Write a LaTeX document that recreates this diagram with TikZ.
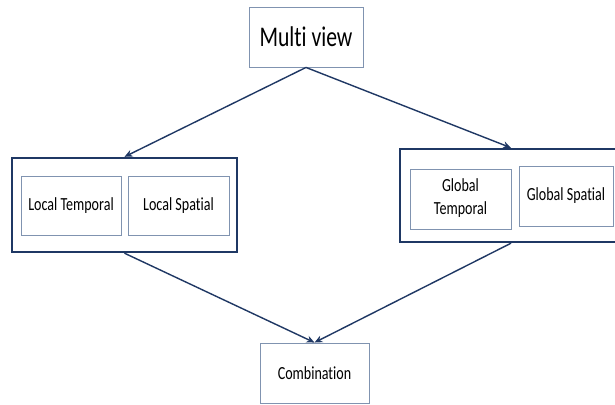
\documentclass[tikz,border=0pt]{standalone}
\usepackage{fontspec}
\setmainfont[Ligatures=NoCommon]{Carlito}
\usetikzlibrary{arrows.meta}
\definecolor{navy}{HTML}{1F3864}
\definecolor{boxline}{HTML}{8093B0}
\newcommand{\narrow}[1]{\scalebox{0.76}[1]{#1}}
\tikzset{
  card/.style={draw=boxline, line width=0.9pt, fill=white, inner sep=0pt, align=center, font=\fontsize{18.5}{21}\selectfont},
  group/.style={draw=navy, line width=2.4pt, inner sep=0pt},
  flow/.style={draw=navy, line width=1.4pt, -{Stealth[length=8pt,width=7pt]}}
}
\begin{document}
\begin{tikzpicture}[x=1pt,y=-1pt]
\useasboundingbox (0,0) rectangle (615,404);
\fill[white] (0,0) rectangle (615,404);

% top source box
\node[card, minimum width=114pt, minimum height=60pt, font=\fontsize{28.5}{32}\selectfont] (mv) at (306,37) {\narrow{Multi view}};

% local group
\node[group, minimum width=225pt, minimum height=94pt] (lg) at (124.5,205) {};
\node[card, minimum width=100pt, minimum height=59pt] (lt) at (71,205.5) {\narrow{Local Temporal}};
\node[card, minimum width=101pt, minimum height=59pt] (ls) at (178.5,205.5) {\narrow{Local Spatial}};

% global group
\node[group, minimum width=222pt, minimum height=93pt] (rg) at (511,195.5) {};
\node[card, minimum width=101pt, minimum height=60pt] (gt) at (460.5,199) {\narrow{\begin{tabular}{@{}c@{}}Global\\[2pt]Temporal\end{tabular}}};
\node[card, minimum width=94pt, minimum height=60pt] (gs) at (566,196) {\narrow{Global Spatial}};

% result box
\node[card, minimum width=109pt, minimum height=60pt] (cb) at (314.5,373) {\narrow{Combination}};

% connectors
\draw[flow] (mv.south) -- (lg.north);
\draw[flow] (mv.south) -- (rg.north);
\draw[flow] (lg.south) -- (cb.north);
\draw[flow] (rg.south) -- (cb.north);
\end{tikzpicture}
\end{document}
